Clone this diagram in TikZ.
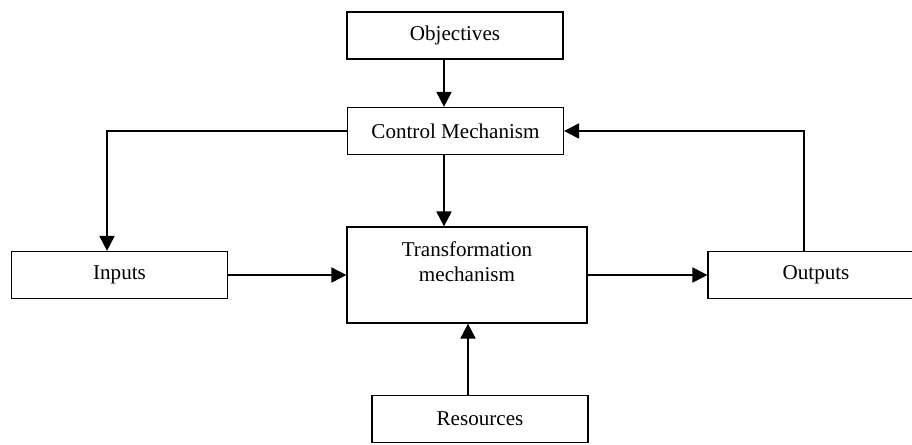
\documentclass[tikz,border=0pt]{standalone}
\usepackage{fontspec}
\setmainfont{Liberation Serif}
\usetikzlibrary{arrows.meta}

\begin{document}
\begin{tikzpicture}[x=0.02cm, y=-0.02cm,
    every node/.style={font=\fontsize{12}{14.2}\selectfont},
    box/.style={draw, line width=0.7pt, minimum width=4.32cm, minimum height=0.94cm, inner sep=0pt},
    arr/.style={-{Triangle[length=8.5pt,width=8.5pt]}, line width=1.1pt}]
    \useasboundingbox (0,0) rectangle (912,444);
    \node[box] (obj) at (455,35.5) {Objectives};
    \node[box] (ctrl) at (455.5,131) {Control Mechanism};
    \node[box, minimum width=4.8cm, minimum height=1.92cm] (trans) at (467,275) {};
    \node[align=center] (transtext) at (467,262) {Transformation\\mechanism};
    \node[box] (inputs) at (119.5,275) {Inputs};
    \node[box] (outputs) at (816,275) {Outputs};
    \node[box] (res) at (480,419) {Resources};
    % bends and drop points
    \coordinate (down) at (444,0);
    \coordinate (up) at (468,0);
    \coordinate (inbend) at (107,0);
    \coordinate (outbend) at (804,0);
    \draw[arr] (down |- obj.south) -- (down |- ctrl.north);
    \draw[arr] (down |- ctrl.south) -- (down |- trans.north);
    \draw[arr] (up |- res.north) -- (up |- trans.south);
    \draw[arr] (ctrl.west) -| (inbend |- inputs.north);
    \draw[arr] (outbend |- outputs.north) |- (ctrl.east);
    \draw[arr] (inputs.east) -- (trans.west);
    \draw[arr] (trans.east) -- (outputs.west);
\end{tikzpicture}
\end{document}
